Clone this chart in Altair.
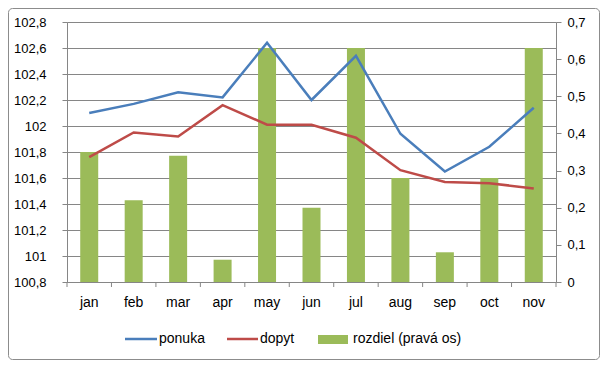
import altair as alt
import pandas as pd

months = ["jan", "feb", "mar", "apr", "may", "jun", "jul", "aug", "sep", "oct", "nov"]
ponuka = [102.10, 102.17, 102.26, 102.22, 102.64, 102.20, 102.54, 101.94, 101.65, 101.84, 102.14]
dopyt = [101.76, 101.95, 101.92, 102.16, 102.01, 102.01, 101.91, 101.66, 101.57, 101.56, 101.52]
rozdiel = [0.35, 0.22, 0.34, 0.06, 0.63, 0.20, 0.63, 0.28, 0.08, 0.28, 0.63]

left_ticks = [100.8, 101.0, 101.2, 101.4, 101.6, 101.8, 102.0, 102.2, 102.4, 102.6, 102.8]
right_ticks = [0, 0.1, 0.2, 0.3, 0.4, 0.5, 0.6, 0.7]

series_names = ["ponuka", "dopyt", "rozdiel (pravá os)"]
BLUE, RED, GREEN = "#4A7EBB", "#BE4B48", "#9BBB59"
GRAY = "#868686"
FONT = "Liberation Sans"

df = pd.DataFrame({"month": months, "ponuka": ponuka, "dopyt": dopyt, "rozdiel": rozdiel})
long = df.melt(id_vars="month", value_vars=["ponuka", "dopyt"], var_name="series", value_name="value")

label_expr = ("datum.value == round(datum.value) ? format(datum.value, 'd') : "
              "replace(format(datum.value, '.1f'), '.', ',')")

xscale = alt.Scale(paddingInner=0, paddingOuter=0)
xenc = alt.X("month:N", sort=months, scale=xscale,
             axis=alt.Axis(title=None, ticks=False, labelAngle=0, labelFont=FONT,
                           labelFontSize=14, labelColor="#000000", labelPadding=13,
                           domainColor=GRAY, grid=False))

bars = alt.Chart(df).mark_bar(size=18, color=GREEN).encode(
    x=xenc,
    y=alt.Y("rozdiel:Q", scale=alt.Scale(domain=[0, 0.7], nice=False, zero=True),
            axis=alt.Axis(orient="right", title=None, values=right_ticks, grid=False,
                          labelExpr=label_expr, labelFont=FONT, labelFontSize=13,
                          labelColor="#000000", tickColor=GRAY, tickSize=5,
                          labelPadding=6, domainColor=GRAY)),
)

lines = alt.Chart(long).mark_line(strokeWidth=2.5).encode(
    x=xenc,
    y=alt.Y("value:Q", scale=alt.Scale(domain=[100.8, 102.8], nice=False, zero=False),
            axis=alt.Axis(orient="left", title=None, values=left_ticks, grid=True,
                          gridColor=GRAY, gridWidth=1, labelExpr=label_expr,
                          labelFont=FONT, labelFontSize=13, labelColor="#000000",
                          tickColor=GRAY, tickSize=5, labelPadding=16, domainColor=GRAY)),
    color=alt.Color("series:N", scale=alt.Scale(domain=series_names[:2], range=[BLUE, RED]),
                    legend=None),
)

xticks = alt.Chart(df).mark_rule(color=GRAY).encode(
    x=alt.X("month:N", sort=months, scale=xscale, bandPosition=0),
    y=alt.value(260), y2=alt.value(265),
)
xtick_end = alt.Chart(df.head(1)).mark_rule(color=GRAY).encode(
    x=alt.value(489), y=alt.value(260), y2=alt.value(265)
)

one = pd.DataFrame({"k": [0]})
border = alt.Chart(one).mark_rect(fill=None, stroke="#8C8C8C", strokeWidth=1,
                                  cornerRadius=4).encode(
    x=alt.value(-58.5), x2=alt.value(532.5), y=alt.value(-13.5), y2=alt.value(337.5)
)

leg_blue = alt.Chart(one).mark_rule(color=BLUE, strokeWidth=2.5).encode(
    x=alt.value(58), x2=alt.value(90), y=alt.value(317))
leg_red = alt.Chart(one).mark_rule(color=RED, strokeWidth=2.5).encode(
    x=alt.value(160), x2=alt.value(191), y=alt.value(317))
leg_green = alt.Chart(one).mark_rect(color=GREEN).encode(
    x=alt.value(251), x2=alt.value(281), y=alt.value(313), y2=alt.value(322))

def leg_text(name, xpos):
    return alt.Chart(one).mark_text(align="left", baseline="middle", font=FONT,
                                    fontSize=14, color="#000000", text=name).encode(
        x=alt.value(xpos), y=alt.value(317))

legend = (leg_blue + leg_red + leg_green + leg_text(series_names[0], 92)
          + leg_text(series_names[1], 193) + leg_text(series_names[2], 286))

chart = alt.layer(border, bars, lines, xticks, xtick_end, legend).resolve_scale(
    y="independent"
).properties(
    width=489, height=260,
    autosize=alt.AutoSizeParams(type="none"),
    padding={"left": 59, "top": 14, "right": 44, "bottom": 78},
).configure_view(stroke=None).configure(background="white")

chart.save("out.html", embed_options={"renderer": "svg", "actions": False})
